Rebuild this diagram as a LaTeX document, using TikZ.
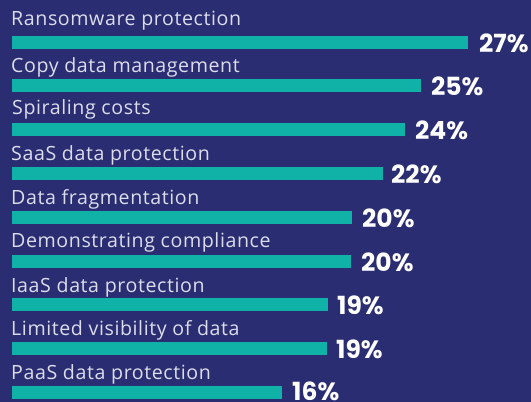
\documentclass[tikz,border=0pt]{standalone}
\usepackage{fontspec}
\setmainfont{Open Sans}
\newfontfamily\lblfont[LetterSpace=3]{Open Sans}
\newfontfamily\pctfont{Poppins}
\definecolor{bgnavy}{HTML}{2A2D72}
\definecolor{barteal}{HTML}{10B2A8}
\definecolor{labelgray}{HTML}{DCDDEB}
\tikzset{
  barbox/.style={fill=barteal, draw=none, minimum height=13pt, inner sep=0pt, outer sep=0pt, anchor=north west},
  lbl/.style={anchor=base west, inner sep=0pt, text=labelgray, font=\lblfont\fontsize{19.6pt}{22pt}\selectfont},
  pct/.style={anchor=base west, inner sep=0pt, text=white, font=\pctfont\bfseries\fontsize{25pt}{28pt}\selectfont}
}
\begin{document}
\begin{tikzpicture}[x=1pt,y=-1pt]
\fill[bgnavy] (0,0) rectangle (531,402);
\useasboundingbox (0,0) rectangle (531,402);
% labels
\node[lbl] (l1) at (11,25) {Ransomware protection};
\node[lbl] (l2) at (11,72) {Copy data management};
\node[lbl] (l3) at (12,114) {Spiraling costs};
\node[lbl] (l4) at (11,160) {SaaS data protection};
\node[lbl] (l5) at (11,204) {Data fragmentation};
\node[lbl] (l6) at (11,247) {Demonstrating compliance};
\node[lbl] (l7) at (11,292) {IaaS data protection};
\node[lbl] (l8) at (11,335) {Limited visibility of data};
\node[lbl] (l9) at (11,379) {PaaS data protection};
% bars
\node[barbox, minimum width=456pt] (b1) at (12,36) {};
\node[barbox, minimum width=409pt] (b2) at (12,79) {};
\node[barbox, minimum width=393pt] (b3) at (12,123) {};
\node[barbox, minimum width=371pt] (b4) at (12,167) {};
\node[barbox, minimum width=340pt] (b5) at (12,211) {};
\node[barbox, minimum width=339pt] (b6) at (12,255) {};
\node[barbox, minimum width=316pt] (b7) at (12,298) {};
\node[barbox, minimum width=315pt] (b8) at (12,342) {};
\node[barbox, minimum width=270pt] (b9) at (12,386) {};
% percentages
\node[pct] (p1) at ([xshift=11pt,yshift=-16pt]b1.north east) {27\%};
\node[pct] (p2) at ([xshift=10pt,yshift=-16pt]b2.north east) {25\%};
\node[pct] (p3) at ([xshift=10pt,yshift=-16pt]b3.north east) {24\%};
\node[pct] (p4) at ([xshift=8pt,yshift=-16pt]b4.north east) {22\%};
\node[pct] (p5) at ([xshift=10pt,yshift=-16pt]b5.north east) {20\%};
\node[pct] (p6) at ([xshift=10pt,yshift=-16pt]b6.north east) {20\%};
\node[pct] (p7) at ([xshift=9pt,yshift=-16pt]b7.north east) {19\%};
\node[pct] (p8) at ([xshift=9pt,yshift=-16pt]b8.north east) {19\%};
\node[pct] (p9) at ([xshift=10pt,yshift=-14pt]b9.north east) {16\%};
\end{tikzpicture}
\end{document}
